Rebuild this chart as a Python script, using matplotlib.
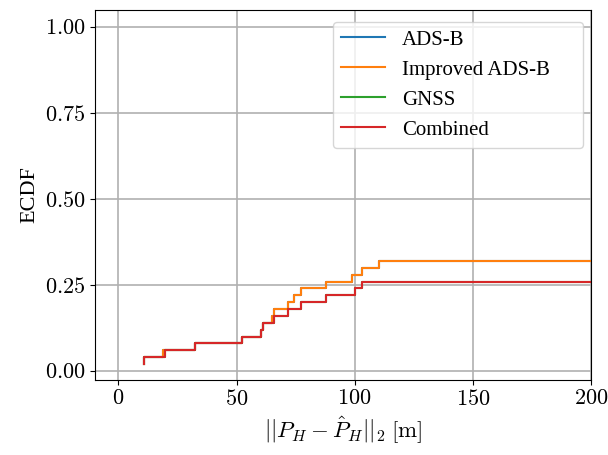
import numpy as np
import matplotlib
matplotlib.use("Agg")
import matplotlib.pyplot as plt
from matplotlib.ticker import FuncFormatter

plt.rcParams['font.family'] = ['Liberation Serif', 'DejaVu Serif']
plt.rcParams['mathtext.fontset'] = 'cm'
plt.rcParams['font.size'] = 16

N_TOTAL = 50
# Errors (m) visible within the plotted range; remaining samples lie beyond 200 m
ads_b = [10.6, 10.6, 18.8, 32.6, 52.2, 60.4, 61.2, 65.0, 65.8, 71.8, 74.2, 77.4,
         88.0, 99.0, 103.1, 110.2, 250.0]
improved_ads_b = [10.6, 10.6, 18.8, 32.6, 52.2, 60.4, 61.2, 65.0, 65.8, 71.8, 74.2, 77.4,
                  88.0, 99.0, 103.1, 110.2, 250.0]
gnss = [10.6, 10.6, 19.5, 32.6, 52.2, 60.4, 61.2, 65.8, 71.8, 77.4, 88.0, 100.0,
        103.1, 250.0]
combined = [10.6, 10.6, 19.5, 32.6, 52.2, 60.4, 61.2, 65.8, 71.8, 77.4, 88.0, 100.0,
            103.1, 250.0]

series = [("ADS-B", ads_b, "#1f77b4"),
          ("Improved ADS-B", improved_ads_b, "#ff7f0e"),
          ("GNSS", gnss, "#2ca02c"),
          ("Combined", combined, "#d62728")]

fig = plt.figure(figsize=(6.08, 4.55), dpi=100)
ax = fig.add_axes([0.156, 0.165, 0.816, 0.813])

for name, vals, col in series:
    x = np.sort(np.array(vals))
    y = np.arange(1, len(x) + 1) / N_TOTAL
    ax.step(x, y, where='post', color=col, label=name, lw=1.5)

ax.set_xlim(-10, 200)
ax.set_ylim(-0.026, 1.05)
ax.set_xticks([0, 50, 100, 150, 200])
ax.set_yticks([0.0, 0.25, 0.5, 0.75, 1.0])
ax.xaxis.set_major_formatter(FuncFormatter(lambda v, p: f"${v:.0f}$"))
ax.yaxis.set_major_formatter(FuncFormatter(lambda v, p: f"${v:.2f}$"))
ax.grid(True, color='#b0b0b0', lw=1.2)
ax.set_axisbelow(True)
ax.set_xlabel(r"$||P_H - \hat{P}_H||_2$ $[\mathrm{m}]$", fontsize=16.5)
ax.set_ylabel("ECDF")
ax.legend(loc='upper right', fontsize=15, mode='expand',
          bbox_to_anchor=(0.48, 0.0, 0.504, 0.968), borderaxespad=0,
          handlelength=2.1, handletextpad=0.8)

fig.savefig("out.png", dpi=100)
